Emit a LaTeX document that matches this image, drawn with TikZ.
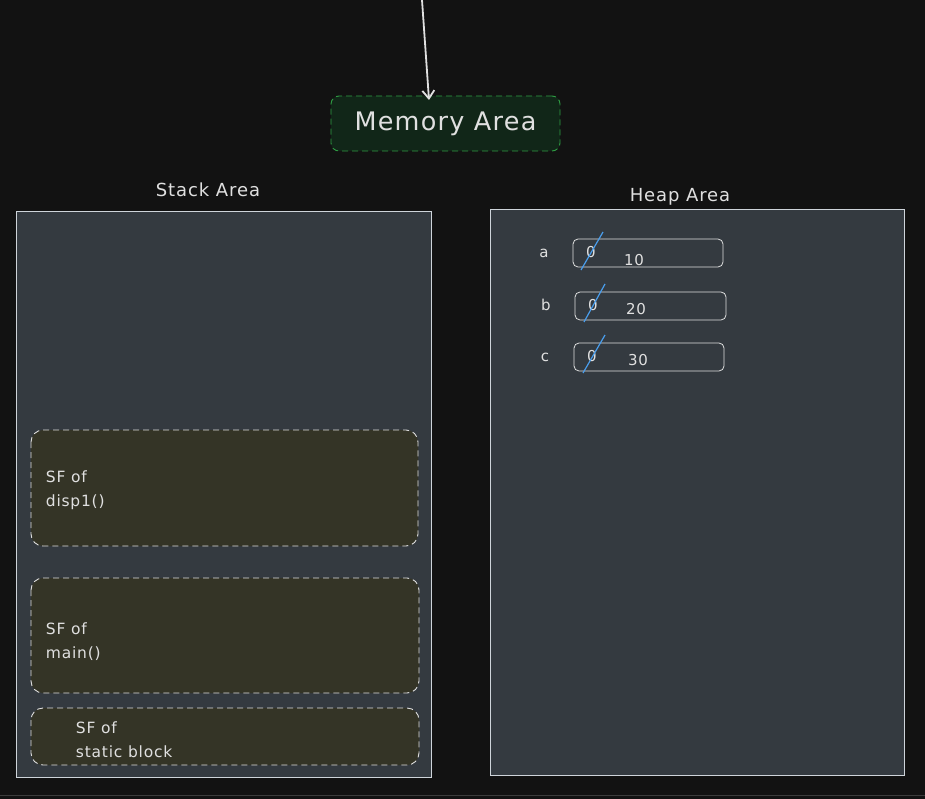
\documentclass[tikz,border=0pt]{standalone}
\usepackage{fontspec}
\setmainfont{DejaVu Sans}[LetterSpace=5]
\usetikzlibrary{arrows.meta}

\definecolor{bgdark}{RGB}{18,18,18}
\definecolor{panelgray}{RGB}{52,58,64}
\definecolor{panelline}{RGB}{206,212,218}
\definecolor{memfill}{RGB}{17,38,24}
\definecolor{memline}{RGB}{47,158,68}
\definecolor{framefill}{RGB}{52,52,38}
\definecolor{slashblue}{RGB}{74,158,237}
\definecolor{inkwhite}{RGB}{224,224,224}

\tikzset{
  areapanel/.style={draw=panelline, fill=panelgray, line width=1pt},
  framebox/.style={draw=inkwhite, dash pattern=on 6pt off 4pt, fill=framefill, rounded corners=12pt, line width=0.9pt},
  slotbox/.style={draw=inkwhite, rounded corners=5pt, line width=0.8pt},
  ink/.style={text=inkwhite, inner sep=0.75pt},
  slash/.style={draw=slashblue, line width=1.2pt}
}

\begin{document}
\begin{tikzpicture}[x=1pt,y=-1pt]
\fill[bgdark] (0,0) rectangle (925,799);
\useasboundingbox (0,0) rectangle (925,799);
%Bottom strip
\draw[line width=1pt, color={rgb, 255:red, 60; green, 60; blue, 60}] (0,795.5) -- (925,795.5);

%Arrow into memory area
\coordinate (top) at (422,0);
\coordinate (tip) at (429,100);
\node[draw=memline, dash pattern=on 6pt off 4pt, fill=memfill, rounded corners=8pt, line width=0.9pt,
  minimum width=229pt, minimum height=55pt, text=inkwhite, font=\fontsize{25.5}{30}\selectfont]
  (memory) at (445.5,123.5) {Memory Area};
\draw[inkwhite, line width=1.8pt, line cap=round, -{Straight Barb[length=8pt, width=12pt]}] (top) -- (tip);

% Text Node
\node[ink, font=\fontsize{18}{20}\selectfont] (stacklabel) at (208,190) {Stack Area};
\node[ink, font=\fontsize{18}{20}\selectfont] (heaplabel) at (680,197) {Heap Area};

%Shape: Rectangle
\draw[areapanel] (16,212) rectangle (431,777);
\draw[areapanel] (490,210) rectangle (904,775);

%Stack frames
\draw[framebox] (31,430) rectangle (418,546);
\node[ink, anchor=west, align=left, font=\fontsize{15.5}{24}\selectfont] (sfdisp) at (45,490) {SF of\\disp1()};
\draw[framebox] (31,578) rectangle (419,693);
\node[ink, anchor=west, align=left, font=\fontsize{15.5}{24}\selectfont] (sfmain) at (45,642) {SF of\\main()};
\draw[framebox] (31,708) rectangle (419,765);
\node[ink, anchor=west, align=left, font=\fontsize{15.5}{24}\selectfont] (sfstatic) at (75,740) {SF of\\static block};

%Heap slots
\node[ink, font=\fontsize{15}{18}\selectfont] (la) at (544,253) {a};
\draw[slotbox] (573,239) rectangle (723,267);
\node[ink, font=\fontsize{15}{18}\selectfont] (za) at (591,252) {0};
\node[ink, font=\fontsize{15}{18}\selectfont] (va) at (634,260) {10};
\draw[slash] (581,270) -- (603,232);

\node[ink, font=\fontsize{15}{18}\selectfont] (lb) at (546,305) {b};
\draw[slotbox] (575,292) rectangle (726,320);
\node[ink, font=\fontsize{15}{18}\selectfont] (zb) at (593,305) {0};
\node[ink, font=\fontsize{15}{18}\selectfont] (vb) at (636,309) {20};
\draw[slash] (584,322) -- (605,284);

\node[ink, font=\fontsize{15}{18}\selectfont] (lc) at (545,357) {c};
\draw[slotbox] (574,343) rectangle (724,371);
\node[ink, font=\fontsize{15}{18}\selectfont] (zc) at (592,356) {0};
\node[ink, font=\fontsize{15}{18}\selectfont] (vc) at (638,360) {30};
\draw[slash] (583,373) -- (605,335);

\end{tikzpicture}
\end{document}
